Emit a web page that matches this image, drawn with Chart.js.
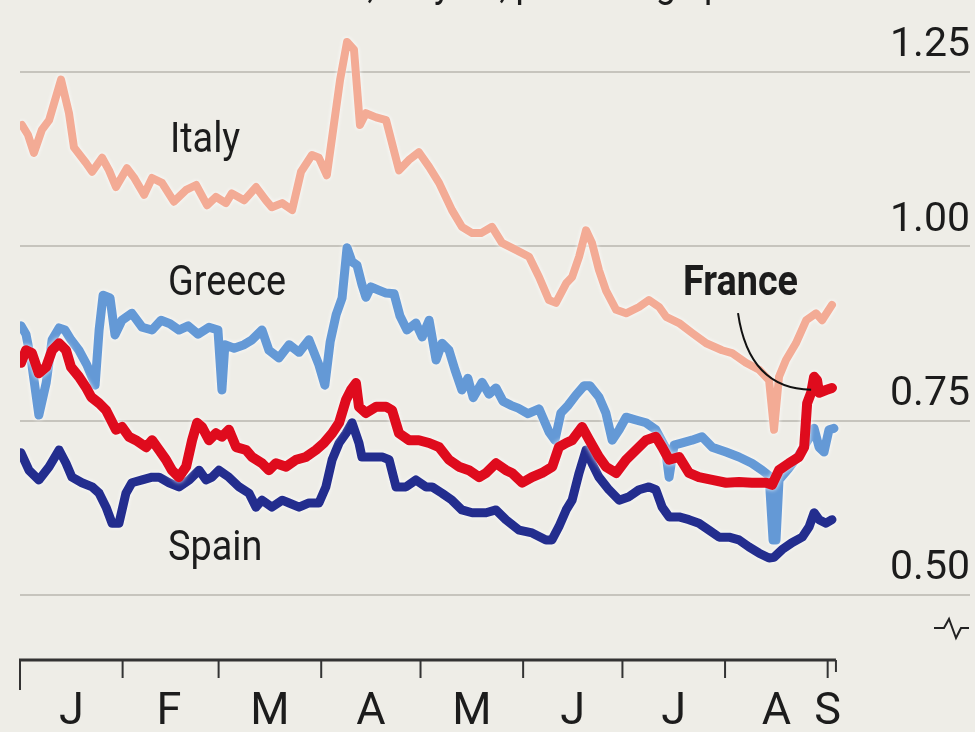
<!DOCTYPE html>
<html>
<head>
<meta charset="utf-8">
<script src="https://cdn.jsdelivr.net/npm/chart.js@4.4.1/dist/chart.umd.min.js"></script>
<style>
  html, body { margin: 0; padding: 0; background: #eeede7; }
  #wrap { width: 975px; height: 732px; }
</style>
</head>
<body>
<div id="wrap"><canvas id="spreadChart" width="975" height="732"></canvas></div>
<script>
const FONT = "'Roboto', 'Liberation Sans', sans-serif";
const BG = '#eeede7';
const INK = '#1c1c1c';

// x values are days since 1 Jan 2024, y values in percentage points
const italyDays = [0.6, 2.4, 4.2, 6.6, 8.8, 12.4, 14.8, 16.3, 19.9, 21.8, 24.8, 26.9, 29.0, 32.3, 34.4, 37.5, 39.9, 42.9, 46.5, 50.2, 53.2, 56.5, 59.2, 62.2, 64.0, 67.7, 71.3, 74.3, 76.1, 79.2, 82.2, 84.9, 88.2, 90.3, 92.7, 94.6, 96.7, 98.8, 100.9, 102.7, 104.5, 107.6, 110.6, 114.5, 117.5, 120.5, 123.6, 126.6, 130.5, 133.5, 136.6, 139.3, 142.6, 145.6, 149.8, 153.8, 156.8, 159.8, 161.9, 165.0, 166.8, 168.9, 171.0, 172.8, 174.9, 177.0, 180.1, 183.1, 187.0, 190.0, 193.1, 195.2, 199.1, 203.0, 207.3, 212.1, 215.1, 219.3, 223.3, 226.3, 227.8, 229.3, 231.4, 234.4, 237.5, 240.5, 242.3, 245.3];
const italyValues = [1.174, 1.160, 1.134, 1.167, 1.181, 1.239, 1.191, 1.142, 1.120, 1.107, 1.127, 1.109, 1.085, 1.112, 1.099, 1.074, 1.098, 1.091, 1.064, 1.081, 1.088, 1.059, 1.071, 1.062, 1.076, 1.066, 1.085, 1.066, 1.056, 1.062, 1.052, 1.107, 1.131, 1.127, 1.102, 1.167, 1.239, 1.293, 1.282, 1.174, 1.191, 1.185, 1.181, 1.109, 1.124, 1.135, 1.114, 1.091, 1.052, 1.028, 1.019, 1.019, 1.028, 1.005, 0.995, 0.985, 0.956, 0.923, 0.919, 0.947, 0.956, 0.985, 1.023, 1.005, 0.966, 0.937, 0.909, 0.904, 0.913, 0.923, 0.913, 0.899, 0.890, 0.876, 0.861, 0.851, 0.847, 0.833, 0.823, 0.808, 0.737, 0.813, 0.837, 0.861, 0.894, 0.904, 0.894, 0.916];

const greeceDays = [0.3, 1.8, 3.6, 5.7, 7.9, 9.7, 11.8, 13.6, 15.4, 17.8, 20.2, 22.7, 23.9, 25.1, 27.2, 28.7, 30.8, 33.8, 36.9, 39.9, 42.6, 45.3, 48.0, 50.8, 53.8, 57.1, 59.8, 61.0, 61.9, 64.7, 67.7, 70.1, 73.1, 75.2, 78.2, 81.3, 84.3, 87.3, 90.3, 92.1, 93.7, 95.5, 97.3, 98.8, 100.3, 101.8, 103.3, 104.5, 106.0, 108.5, 110.6, 113.0, 114.8, 116.9, 119.6, 121.5, 123.6, 125.7, 127.5, 129.6, 131.4, 133.5, 135.3, 136.9, 139.6, 141.7, 143.8, 145.9, 148.3, 150.5, 153.5, 156.8, 159.8, 161.6, 163.4, 165.6, 168.0, 170.4, 172.2, 174.9, 177.0, 178.9, 181.0, 183.1, 186.1, 189.1, 192.1, 194.9, 196.1, 197.6, 200.6, 203.0, 206.0, 209.1, 213.3, 217.2, 221.1, 224.2, 226.3, 227.5, 228.4, 229.3, 232.3, 235.3, 238.4, 239.9, 241.4, 242.9, 244.4, 245.9];
const greeceValues = [0.886, 0.874, 0.830, 0.758, 0.804, 0.866, 0.883, 0.880, 0.866, 0.851, 0.830, 0.801, 0.880, 0.930, 0.926, 0.873, 0.894, 0.904, 0.884, 0.880, 0.894, 0.889, 0.880, 0.886, 0.874, 0.884, 0.880, 0.794, 0.859, 0.854, 0.859, 0.866, 0.880, 0.851, 0.840, 0.859, 0.848, 0.866, 0.830, 0.801, 0.863, 0.902, 0.926, 0.998, 0.978, 0.973, 0.945, 0.927, 0.942, 0.937, 0.933, 0.932, 0.900, 0.880, 0.890, 0.870, 0.894, 0.837, 0.861, 0.851, 0.823, 0.794, 0.811, 0.783, 0.805, 0.788, 0.797, 0.778, 0.772, 0.768, 0.760, 0.767, 0.734, 0.722, 0.761, 0.772, 0.787, 0.800, 0.800, 0.784, 0.761, 0.722, 0.737, 0.755, 0.751, 0.747, 0.737, 0.712, 0.669, 0.715, 0.719, 0.722, 0.727, 0.712, 0.705, 0.698, 0.689, 0.679, 0.671, 0.579, 0.579, 0.665, 0.682, 0.701, 0.725, 0.739, 0.712, 0.705, 0.737, 0.739];

const franceDays = [0.3, 1.8, 3.6, 5.7, 7.9, 9.7, 11.8, 13.9, 15.4, 17.8, 19.9, 21.5, 23.9, 26.0, 27.5, 29.0, 30.8, 32.9, 35.0, 38.1, 39.9, 42.0, 44.1, 45.9, 48.0, 50.2, 52.0, 53.5, 55.0, 57.1, 59.2, 61.0, 63.1, 65.3, 68.3, 70.1, 73.1, 75.2, 77.3, 80.4, 83.4, 86.4, 89.4, 91.8, 94.3, 96.4, 98.5, 100.0, 101.5, 102.4, 104.5, 107.6, 110.6, 112.4, 114.5, 117.5, 120.5, 123.6, 126.6, 129.6, 132.6, 135.6, 138.7, 140.8, 143.8, 146.8, 148.6, 151.7, 154.7, 157.7, 160.8, 162.8, 165.0, 166.8, 169.8, 172.0, 174.9, 177.0, 180.1, 183.1, 186.1, 189.1, 192.1, 194.0, 196.1, 199.1, 202.1, 205.1, 209.1, 213.3, 217.2, 221.1, 225.4, 227.2, 229.3, 232.3, 235.3, 236.9, 237.8, 239.0, 239.9, 240.8, 241.4, 243.5, 245.3];
const franceValues = [0.833, 0.851, 0.847, 0.818, 0.827, 0.851, 0.861, 0.851, 0.827, 0.813, 0.798, 0.784, 0.775, 0.765, 0.751, 0.737, 0.741, 0.727, 0.722, 0.712, 0.722, 0.708, 0.694, 0.679, 0.669, 0.684, 0.722, 0.747, 0.741, 0.722, 0.732, 0.727, 0.737, 0.712, 0.708, 0.698, 0.689, 0.679, 0.689, 0.684, 0.694, 0.698, 0.708, 0.718, 0.732, 0.747, 0.780, 0.794, 0.804, 0.770, 0.761, 0.770, 0.770, 0.765, 0.732, 0.722, 0.722, 0.718, 0.712, 0.694, 0.684, 0.679, 0.669, 0.675, 0.689, 0.679, 0.675, 0.661, 0.669, 0.675, 0.684, 0.712, 0.718, 0.722, 0.741, 0.722, 0.698, 0.684, 0.675, 0.694, 0.708, 0.722, 0.727, 0.712, 0.694, 0.698, 0.675, 0.669, 0.665, 0.661, 0.662, 0.661, 0.661, 0.658, 0.679, 0.689, 0.698, 0.712, 0.775, 0.790, 0.813, 0.808, 0.790, 0.794, 0.797];

const spainDays = [0.3, 2.7, 5.7, 8.8, 11.8, 13.9, 15.7, 18.7, 21.8, 23.9, 26.0, 27.8, 29.9, 32.0, 33.8, 36.9, 39.9, 42.0, 45.0, 48.0, 51.1, 54.1, 56.2, 58.0, 60.1, 63.1, 66.2, 69.2, 71.3, 73.1, 76.1, 79.2, 81.3, 84.3, 87.3, 90.3, 92.4, 94.3, 96.4, 98.5, 100.3, 102.4, 103.3, 106.3, 109.4, 111.5, 113.6, 116.6, 119.6, 122.7, 124.5, 127.5, 130.5, 133.5, 136.6, 140.8, 143.8, 146.8, 150.8, 154.7, 158.9, 160.7, 162.8, 165.0, 166.8, 168.9, 171.0, 172.8, 174.9, 177.9, 181.0, 184.0, 187.0, 190.0, 192.1, 194.0, 196.1, 199.1, 202.1, 205.1, 208.2, 211.2, 214.2, 217.2, 220.2, 223.3, 226.3, 227.8, 230.2, 233.2, 236.3, 238.4, 239.9, 241.4, 243.5, 245.3];
const spainValues = [0.704, 0.679, 0.665, 0.684, 0.708, 0.689, 0.669, 0.661, 0.655, 0.646, 0.626, 0.603, 0.603, 0.646, 0.661, 0.665, 0.669, 0.669, 0.661, 0.655, 0.665, 0.679, 0.665, 0.669, 0.679, 0.669, 0.655, 0.646, 0.626, 0.636, 0.626, 0.636, 0.632, 0.626, 0.632, 0.632, 0.655, 0.694, 0.718, 0.732, 0.747, 0.718, 0.698, 0.698, 0.698, 0.694, 0.655, 0.655, 0.665, 0.655, 0.655, 0.646, 0.636, 0.622, 0.618, 0.618, 0.622, 0.608, 0.593, 0.589, 0.579, 0.579, 0.598, 0.622, 0.636, 0.675, 0.708, 0.689, 0.669, 0.651, 0.636, 0.641, 0.651, 0.655, 0.651, 0.626, 0.612, 0.612, 0.608, 0.603, 0.593, 0.583, 0.583, 0.579, 0.569, 0.560, 0.553, 0.554, 0.565, 0.575, 0.583, 0.598, 0.618, 0.608, 0.603, 0.608];

// month boundaries, label positions and labels
const monthStarts = [0, 31, 60, 91, 121, 152, 182, 213, 244];
const monthMids = [15.5, 45, 75.5, 106, 136.5, 167, 197.5, 228.5, 244];
const monthLabels = ['J', 'F', 'M', 'A', 'M', 'J', 'J', 'A', 'S'];
const yTicks = [0.5, 0.75, 1.0, 1.25];

const title = 'Extra cost over Bunds, 10-year, percentage points';

function points(days, values) {
    return days.map((d, i) => ({ x: d, y: values[i] }));
}

function line(label, days, values, color, width) {
    return {
        label: label,
        data: points(days, values),
        borderColor: color,
        borderWidth: width,
        borderJoinStyle: 'round',
        borderCapStyle: 'round',
        pointRadius: 0,
        tension: 0,
        fill: false
    };
}

// narrow text: squeeze horizontally around the left edge
function narrowText(ctx, text, x, y, squeeze) {
    ctx.save();
    ctx.translate(x, y);
    ctx.scale(squeeze, 1);
    ctx.fillText(text, 0, 0);
    ctx.restore();
}

const decorations = {
    id: 'decorations',
    beforeDraw(chart) {
        const ctx = chart.ctx;
        ctx.save();
        ctx.fillStyle = BG;
        ctx.fillRect(0, 0, chart.width, chart.height);
        ctx.restore();
    },
    // pale halo round each line
    beforeDatasetDraw(chart) {
        const ctx = chart.ctx;
        ctx.save();
        ctx.shadowColor = 'rgba(255,255,255,0.95)';
        ctx.shadowBlur = 4;
    },
    afterDatasetDraw(chart) {
        chart.ctx.restore();
    },
    afterDraw(chart) {
        const ctx = chart.ctx;
        const area = chart.chartArea;
        const xs = chart.scales.x;
        const ys = chart.scales.y;
        const axisY = area.bottom;

        ctx.save();

        // time axis with month ticks
        ctx.strokeStyle = '#333';
        ctx.lineWidth = 3;
        ctx.beginPath();
        ctx.moveTo(xs.getPixelForValue(0) - 1, axisY);
        ctx.lineTo(xs.getPixelForValue(246.5), axisY);
        ctx.stroke();
        ctx.lineWidth = 2;
        monthStarts.forEach((d, i) => {
            const px = xs.getPixelForValue(d);
            ctx.beginPath();
            ctx.moveTo(px, axisY);
            ctx.lineTo(px, axisY + (i === 0 ? 30 : 18));
            ctx.stroke();
        });
        const endPx = xs.getPixelForValue(246.5);
        ctx.beginPath();
        ctx.moveTo(endPx, axisY);
        ctx.lineTo(endPx, axisY + 12);
        ctx.stroke();

        // axis break mark
        ctx.strokeStyle = '#222';
        ctx.lineWidth = 2;
        const bx = area.right - 36;
        const by = axisY - 32;
        ctx.beginPath();
        ctx.moveTo(bx, by);
        ctx.lineTo(bx + 10, by);
        ctx.lineTo(bx + 15, by - 9);
        ctx.lineTo(bx + 22, by + 10);
        ctx.lineTo(bx + 27, by);
        ctx.lineTo(bx + 35, by);
        ctx.stroke();

        // series names
        ctx.fillStyle = INK;
        ctx.textBaseline = 'alphabetic';
        ctx.textAlign = 'left';
        ctx.font = '42px ' + FONT;
        narrowText(ctx, 'Italy', xs.getPixelForValue(45.3), ys.getPixelForValue(1.135), 0.9);
        narrowText(ctx, 'Greece', xs.getPixelForValue(44.7), ys.getPixelForValue(0.930), 0.9);
        narrowText(ctx, 'Spain', xs.getPixelForValue(44.7), ys.getPixelForValue(0.550), 0.9);
        ctx.font = 'bold 42px ' + FONT;
        const fx = xs.getPixelForValue(200.3);
        const fy = ys.getPixelForValue(0.930);
        narrowText(ctx, 'France', fx, fy, 0.9);

        // pointer from the France label to its line
        const k = franceDays.indexOf(239.0);
        const ex = xs.getPixelForValue(franceDays[k]);
        const ey = ys.getPixelForValue(franceValues[k]);
        ctx.strokeStyle = '#111';
        ctx.lineWidth = 2;
        ctx.beginPath();
        ctx.moveTo(fx + 55, fy + 18);
        ctx.quadraticCurveTo(fx + 66, ey - 4, ex, ey - 3);
        ctx.stroke();

        // heading, mostly above the top edge
        ctx.font = '40px ' + FONT;
        narrowText(ctx, title, 20, -3, 0.9);

        ctx.restore();
    }
};

new Chart(document.getElementById('spreadChart'), {
    type: 'line',
    data: {
        datasets: [
            line('France', franceDays, franceValues, '#df0b1d', 10),
            line('Spain', spainDays, spainValues, '#232d8e', 9),
            line('Greece', greeceDays, greeceValues, '#6499d6', 9),
            line('Italy', italyDays, italyValues, '#f3ab95', 8)
        ]
    },
    options: {
        responsive: false,
        animation: false,
        devicePixelRatio: 1,
        layout: { padding: { left: 20, right: 5, top: 0, bottom: 0 } },
        plugins: {
            legend: { display: false },
            tooltip: { enabled: false }
        },
        scales: {
            x: {
                type: 'linear',
                min: 0,
                max: 287,
                afterBuildTicks: s => { s.ticks = monthMids.map(v => ({ value: v })); },
                afterFit: s => { s.height = 72; s.paddingLeft = 0; s.paddingRight = 0; },
                grid: { display: false, drawTicks: false },
                border: { display: false },
                ticks: {
                    autoSkip: false,
                    maxRotation: 0,
                    padding: 30,
                    color: INK,
                    font: { family: FONT, size: 45, lineHeight: 1 },
                    callback: (v, i) => monthLabels[i]
                }
            },
            y: {
                position: 'right',
                min: 0.4068,
                max: 1.3533,
                afterBuildTicks: s => { s.ticks = yTicks.map(v => ({ value: v })); },
                afterFit: s => { s.paddingTop = 0; s.paddingBottom = 0; },
                grid: { color: '#c6c4bd', lineWidth: 2, drawTicks: false },
                border: { display: false },
                ticks: {
                    mirror: true,
                    padding: 0,
                    labelOffset: -26,
                    color: INK,
                    font: { family: FONT, size: 41 },
                    callback: v => v.toFixed(2)
                }
            }
        }
    },
    plugins: [decorations]
});
</script>
</body>
</html>
